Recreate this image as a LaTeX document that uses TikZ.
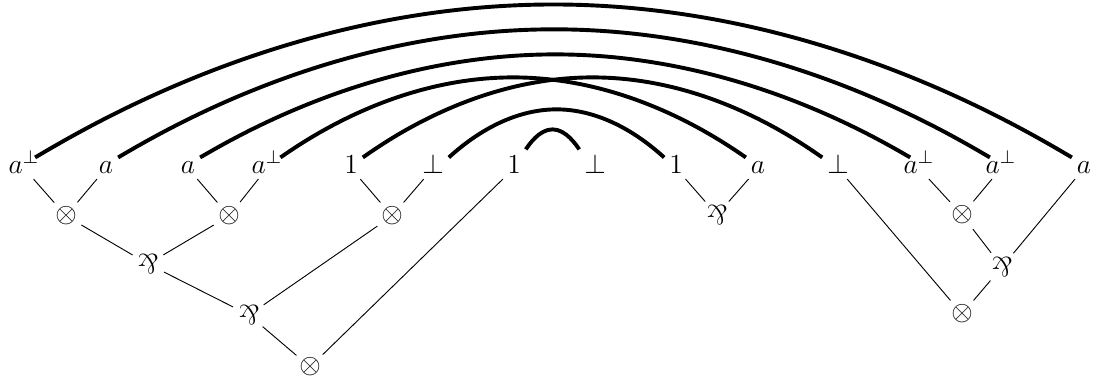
\documentclass[12pt,tikz,border=0pt]{standalone}
\usepackage{graphicx}
\newcommand{\parrsym}{\rotatebox[origin=c]{180}{$\&$}}

\begin{document}
\begin{tikzpicture}[x=0.4348pt,y=0.4348pt,
    lab/.style={inner sep=2pt,text height=5pt,text depth=0pt,anchor=base},
    op/.style={circle,inner sep=1pt},
    axiom/.style={line width=1.7pt}]
    \useasboundingbox (0,0) rectangle (1097,382);

    % Conclusions of the axioms
    \node[lab] (l1) at (24,208) {$a^{\perp}$};
    \node[lab] (l2) at (106,208) {$a$};
    \node[lab] (l3) at (188,208) {$a$};
    \node[lab] (l4) at (267,208) {$a^{\perp}$};
    \node[lab] (l5) at (351,208) {$1$};
    \node[lab] (l6) at (433,208) {$\bot$};
    \node[lab] (l7) at (514,208) {$1$};
    \node[lab] (l8) at (595,208) {$\bot$};
    \node[lab] (l9) at (676,208) {$1$};
    \node[lab] (l10) at (758,208) {$a$};
    \node[lab] (l11) at (838,208) {$\bot$};
    \node[lab] (l12) at (919,208) {$a^{\perp}$};
    \node[lab] (l13) at (1001,208) {$a^{\perp}$};
    \node[lab] (l14) at (1084,208) {$a$};

    % Tensor and par links
    \node[op] (t1) at (66,166) {$\otimes$};
    \node[op] (t2) at (229,166) {$\otimes$};
    \node[op] (t3) at (392,166) {$\otimes$};
    \node[op] (p1) at (148,118) {\parrsym};
    \node[op] (p2) at (249,67) {\parrsym};
    \node[op] (t4) at (310,15) {$\otimes$};
    \node[op] (p3) at (717,167) {\parrsym};
    \node[op] (t5) at (962,167) {$\otimes$};
    \node[op] (p4) at (1002,115) {\parrsym};
    \node[op] (t6) at (962,68) {$\otimes$};

    % Wires
    \draw (l1) -- (t1);
    \draw (l2) -- (t1);
    \draw (l3) -- (t2);
    \draw (l4) -- (t2);
    \draw (l5) -- (t3);
    \draw (l6) -- (t3);
    \draw (t1) -- (p1);
    \draw (t2) -- (p1);
    \draw (p1) -- (p2);
    \draw (t3) -- (p2);
    \draw (p2) -- (t4);
    \draw (l7) -- (t4);
    \draw (l9) -- (p3);
    \draw (l10) -- (p3);
    \draw (l12) -- (t5);
    \draw (l13) -- (t5);
    \draw (t5) -- (p4);
    \draw (l14) -- (p4);
    \draw (l11) -- (t6);
    \draw (p4) -- (t6);

    % Axiom links
    \draw[axiom] ([xshift=-4pt]l1.north east) parabola[parabola height=66.5pt] (l14.north west);
    \draw[axiom] (l2.north east) parabola[parabola height=55.7pt] ([xshift=4pt]l13.north west);
    \draw[axiom] (l3.north east) parabola[parabola height=44.8pt] ([xshift=5pt]l12.north west);
    \draw[axiom] ([xshift=-3pt]l4.north east) parabola[parabola height=34.8pt] (l10.north west);
    \draw[axiom] (l5.north east) parabola[parabola height=34.8pt] (l11.north west);
    \draw[axiom] (l6.north east) parabola[parabola height=20.9pt] (l9.north west);
    \draw[axiom] ([yshift=3.5pt]l7.north east) parabola[parabola height=8.7pt] ([yshift=3.5pt]l8.north west);
\end{tikzpicture}
\end{document}
